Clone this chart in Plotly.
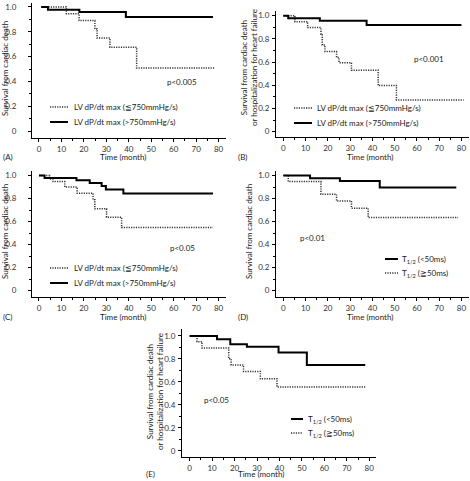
import plotly.graph_objects as go

W, H = 470, 481

# ---------------- data (Kaplan-Meier steps) ----------------
a_hi_t = [1, 4, 18, 38.7, 77.5]
a_hi_s = [1.0, 0.978, 0.96, 0.92, 0.92]
a_lo_t = [1, 12.2, 17.9, 24.9, 25.9, 31.6, 43.5, 78.5]
a_lo_s = [1.0, 0.946, 0.89, 0.823, 0.75, 0.675, 0.508, 0.508]

b_hi_t = [0, 2.2, 16.4, 37.4, 80]
b_hi_s = [1.0, 0.977, 0.957, 0.92, 0.92]
b_lo_t = [0, 5.2, 10.9, 16.9, 17.5, 18.7, 23.9, 25, 30.6, 42.6, 50.8, 81]
b_lo_s = [1.0, 0.948, 0.897, 0.84, 0.747, 0.69, 0.64, 0.595, 0.53, 0.397, 0.273, 0.273]

c_hi_t = [0, 2.5, 16.7, 22.6, 27.9, 29.8, 37.6, 77.5]
c_hi_s = [1.0, 0.98, 0.96, 0.936, 0.91, 0.88, 0.845, 0.845]
c_lo_t = [0, 4.8, 6.3, 11.5, 17, 24.1, 24.9, 30.1, 36.8, 77.5]
c_lo_s = [1.0, 0.97, 0.948, 0.90, 0.847, 0.79, 0.711, 0.639, 0.549, 0.549]

d_hi_t = [0, 12, 25.4, 43.3, 77.7]
d_hi_s = [1.0, 0.977, 0.954, 0.896, 0.896]
d_lo_t = [0, 2.2, 16.9, 23.9, 30.6, 38.1, 78.5]
d_lo_s = [1.0, 0.948, 0.838, 0.78, 0.717, 0.636, 0.636]

e_hi_t = [0, 12.2, 18.1, 25.5, 39.6, 52.2, 78.2]
e_hi_s = [1.0, 0.971, 0.928, 0.905, 0.856, 0.747, 0.747]
e_lo_t = [0, 3.3, 5.5, 17.4, 18.5, 24.0, 31.5, 38.9, 78.2]
e_lo_s = [1.0, 0.95, 0.894, 0.80, 0.747, 0.69, 0.626, 0.555, 0.555]

x_ticks = [0, 10, 20, 30, 40, 50, 60, 70, 80]
y_ticks = [0, 0.2, 0.4, 0.6, 0.8, 1.0]
y_ticktext = ["0", "0.2", "0.4", "0.6", "0.8", "1.0"]

title1 = "Survival from cardiac death"
title2 = "Survival from cardiac death<br>or hospitalization for heart failure"
leg_lo_dp = "LV dP/dt max (≦750mmHg/s)"
leg_hi_dp = "LV dP/dt max (>750mmHg/s)"
leg_hi_t = "T<sub>1/2</sub> (<50ms)"
leg_lo_t = "T<sub>1/2</sub> (≧50ms)"

FONT = "Lato"
TXT = "#222"
DOT = "1.2px,1.2px"

def px(x):
    return x / W

def py(y):
    return 1 - y / H

# panel geometry in pixels
panels = {
    "A": dict(x0=32, x1=226, y0=3, y1=138, xr=[-3.1, 83.3], yr=[-0.056, 1.032], so=10),
    "B": dict(x0=276, x1=469, y0=11, y1=137, xr=[-3.3, 83.4], yr=[-0.046, 1.04], so=1),
    "C": dict(x0=32, x1=226, y0=171, y1=297, xr=[-3.1, 83.3], yr=[-0.055, 1.04], so=10),
    "D": dict(x0=276, x1=469, y0=171, y1=297, xr=[-3.3, 83.4], yr=[-0.055, 1.04], so=1),
    "E": dict(x0=182, x1=376, y0=329, y1=457, xr=[-3.4, 83.0], yr=[-0.054, 1.06], so=1),
}

data = {
    "A": [(a_lo_t, a_lo_s, "dot"), (a_hi_t, a_hi_s, "solid")],
    "B": [(b_lo_t, b_lo_s, "dot"), (b_hi_t, b_hi_s, "solid")],
    "C": [(c_lo_t, c_lo_s, "dot"), (c_hi_t, c_hi_s, "solid")],
    "D": [(d_lo_t, d_lo_s, "dot"), (d_hi_t, d_hi_s, "solid")],
    "E": [(e_lo_t, e_lo_s, "dot"), (e_hi_t, e_hi_s, "solid")],
}

def line_style(dash):
    if dash == "solid":
        return dict(color="black", width=2, dash="solid")
    return dict(color="#333", width=1.5, dash=DOT)

fig = go.Figure()
layout = dict(
    width=W, height=H, margin=dict(l=0, r=0, t=0, b=0, pad=0),
    paper_bgcolor="white", plot_bgcolor="white", showlegend=False,
    font=dict(family=FONT, size=8, color=TXT),
)

for i, key in enumerate(["A", "B", "C", "D", "E"]):
    n = "" if i == 0 else str(i + 1)
    g = panels[key]
    for t, s, dash in data[key]:
        fig.add_trace(go.Scatter(
            x=t, y=s, mode="lines", line_shape="hv", line=line_style(dash),
            xaxis="x" + n, yaxis="y" + n, hoverinfo="skip"))
    layout["xaxis" + n] = dict(
        domain=[px(g["x0"]), px(g["x1"])], range=g["xr"], anchor="y" + n,
        showline=True, linecolor="black", linewidth=1, showgrid=False, zeroline=False,
        tickmode="array", tickvals=x_ticks, ticks="outside", ticklen=3, tickcolor="black",
        minor=dict(tickmode="linear", tick0=0, dtick=5, ticks="outside", ticklen=2, tickcolor="black"),
        tickfont=dict(size=8, color="#333", family=FONT), fixedrange=True)
    layout["yaxis" + n] = dict(
        domain=[py(g["y1"]), py(g["y0"])], range=g["yr"], anchor="x" + n,
        showline=True, linecolor="black", linewidth=1, showgrid=False, zeroline=False,
        tickmode="array", tickvals=y_ticks, ticktext=y_ticktext,
        ticks="outside", ticklen=3, tickcolor="black", ticklabelstandoff=g["so"],
        minor=dict(tickmode="linear", tick0=0, dtick=0.1, ticks="outside", ticklen=2, tickcolor="black"),
        tickfont=dict(size=8, color="#333", family=FONT), fixedrange=True)

fig.update_layout(**layout)

ann = []
shapes = []

def text(x, y, s, size=8, xanchor="center", angle=0):
    ann.append(dict(text=s, x=px(x), y=py(y), xref="paper", yref="paper",
                    showarrow=False, xanchor=xanchor, yanchor="middle",
                    textangle=angle, font=dict(size=size, family=FONT, color=TXT)))

def sample(x0, x1, y, dash):
    shapes.append(dict(type="line", xref="paper", yref="paper",
                       x0=px(x0), x1=px(x1), y0=py(y), y1=py(y),
                       line=line_style(dash)))

# panel labels
text(1, 157, "(A)", xanchor="left")
text(236, 157, "(B)", xanchor="left")
text(1, 317, "(C)", xanchor="left")
text(236, 317, "(D)", xanchor="left")
text(144, 474, "(E)", xanchor="left")

# x axis titles
text(123, 157, "Time (month)")
text(370, 157, "Time (month)")
text(123, 317, "Time (month)")
text(370, 317, "Time (month)")
text(261, 474, "Time (month)")

# y axis titles
text(5, 69, title1, angle=-90)
text(249, 68, title2, angle=-90)
text(5, 232, title1, angle=-90)
text(249, 232, title1, angle=-90)
text(155, 392, title2, angle=-90)

# p values
text(165, 82, "p<0.005", xanchor="left")
text(412, 59, "p<0.001", xanchor="left")
text(168, 248, "p<0.05", xanchor="left")
text(298, 238, "p<0.01", xanchor="left")
text(202, 400, "p<0.05", xanchor="left")

# legends
sample(50, 68, 107, "dot"); text(72, 107, leg_lo_dp, xanchor="left")
sample(50, 68, 122, "solid"); text(72, 122, leg_hi_dp, xanchor="left")
sample(294, 312, 108, "dot"); text(315, 108, leg_lo_dp, xanchor="left")
sample(294, 312, 123, "solid"); text(315, 123, leg_hi_dp, xanchor="left")
sample(50, 68, 268, "dot"); text(72, 268, leg_lo_dp, xanchor="left")
sample(50, 68, 283, "solid"); text(72, 283, leg_hi_dp, xanchor="left")
sample(385, 398, 259, "solid"); text(400, 259, leg_hi_t, xanchor="left")
sample(385, 398, 273, "dot"); text(400, 273, leg_lo_t, xanchor="left")
sample(291, 303, 419, "solid"); text(306, 419, leg_hi_t, xanchor="left")
sample(291, 303, 433, "dot"); text(306, 433, leg_lo_t, xanchor="left")

fig.update_layout(annotations=ann, shapes=shapes)
fig.write_html("out.html", config={"displayModeBar": False},
               post_script="document.body.style.margin='0px';document.body.style.overflow='hidden';")
